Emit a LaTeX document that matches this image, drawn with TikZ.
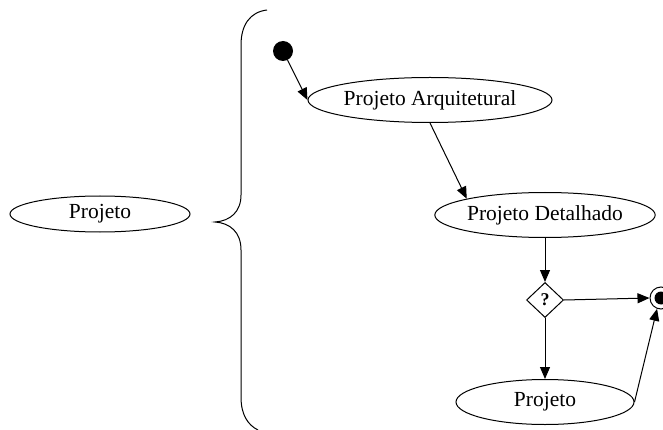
\documentclass[tikz,border=0pt]{standalone}
\usepackage{fontspec}
\setmainfont{Liberation Serif}
\usetikzlibrary{shapes.geometric,arrows.meta}

\tikzset{
	atividade/.style={draw, ellipse, inner sep=0pt, line width=1pt,
		font=\fontsize{21.5}{24}\selectfont},
	seta/.style={line width=1pt, -{Triangle[length=12pt,width=10pt]}}
}

\begin{document}
\begin{tikzpicture}[x=1pt, y=-1pt]
	\useasboundingbox (0,0) rectangle (663,430);

	% Projeto (left)
	\node[atividade, minimum width=180pt, minimum height=36pt] (proj) at (100,214) {Projeto};

	% Brace
	\draw[line width=1pt] (267,10) .. controls (250,12) and (241,25) .. (241,45) -- (241,195)
		.. controls (241,212) and (230,221) .. (215,222)
		.. controls (230,223) and (241,232) .. (241,250) -- (241,397)
		.. controls (241,415) and (248,425) .. (258,430);

	% Activities
	\node[circle, fill, minimum size=20pt, inner sep=0pt] (inicio) at (283,51) {};
	\node[atividade, minimum width=240pt, minimum height=45pt] (arq) at (430,100) {Projeto Arquitetural};
	\node[atividade, minimum width=218pt, minimum height=45pt] (det) at (545,215) {Projeto Detalhado};
	\node[draw, diamond, line width=1pt, minimum width=37pt, minimum height=35pt, inner sep=0pt,
		font=\fontsize{18}{20}\selectfont\bfseries] (decisao) at (545,300) {?};
	\node[atividade, minimum width=178pt, minimum height=45pt] (projfim) at (545,402) {Projeto};
	\node[circle, draw, line width=1pt, minimum size=22pt, inner sep=0pt] (fim) at (661,298) {};
	\node[circle, fill, minimum size=13pt, inner sep=0pt] at (fim) {};

	% Transitions
	\draw[seta] (inicio) -- (arq.west);
	\draw[seta] (arq.south) -- (det.north west);
	\draw[seta] (det.south) -- (decisao.north);
	\draw[seta] (decisao.east) -- (fim.west);
	\draw[seta] (decisao.south) -- (projfim.north);
	\draw[seta] (projfim.east) -- (fim.250);

\end{tikzpicture}
\end{document}
